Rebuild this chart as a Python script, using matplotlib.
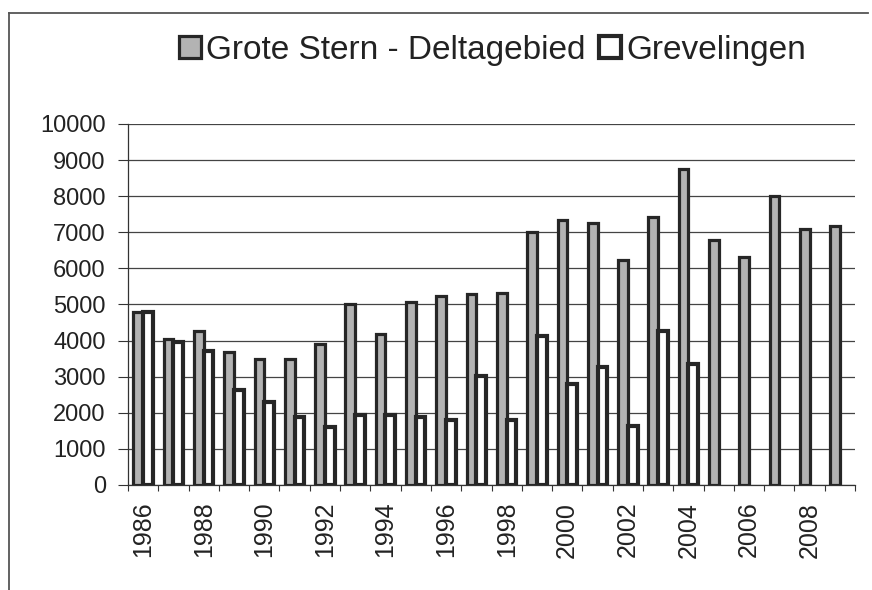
import matplotlib.pyplot as plt
from matplotlib.lines import Line2D
from matplotlib.ticker import FixedLocator
import numpy as np

plt.rcParams['font.family'] = ['Liberation Sans', 'DejaVu Sans']

years = list(range(1986, 2010))
grote_stern = [4780, 4030, 4260, 3690, 3500, 3500, 3900, 5000, 4170, 5060, 5230, 5300,
               5320, 7020, 7340, 7260, 6220, 7420, 8740, 6790, 6300, 8000, 7090, 7160]
# Grevelingen only counted until 2004
grevelingen = [4800, 3970, 3720, 2630, 2300, 1880, 1610, 1950, 1940, 1870, 1790, 3030,
               1790, 4120, 2790, 3270, 1620, 4260, 3360]

text_col = '#222222'
edge_col = '#262626'

fig = plt.figure(figsize=(8.72, 5.9), dpi=100)
ax = fig.add_axes([0.1468, 0.178, 0.8337, 0.612])

x = np.arange(len(years))
w = 0.32
ax.bar(x - w / 2, grote_stern, width=w, color='#b3b3b3', edgecolor=edge_col,
       linewidth=2.3, label='Grote Stern - Deltagebied', zorder=3)
xg = np.arange(len(grevelingen))
ax.bar(xg + w / 2, grevelingen, width=w, color='white', edgecolor=edge_col,
       linewidth=3.0, label='Grevelingen', zorder=3)

ax.set_xlim(-0.5, len(years) - 0.5)
ax.set_ylim(0, 10000)
ax.set_yticks(np.arange(0, 10001, 1000))
ax.yaxis.grid(True, color='#444444', linewidth=0.9, zorder=0)
ax.set_axisbelow(True)

ax.set_xticks(x[::2])
ax.set_xticklabels([str(y) for y in years[::2]], rotation=90, fontsize=18, color=text_col)
ax.xaxis.set_minor_locator(FixedLocator(np.arange(-0.5, len(years), 1.0)))
ax.tick_params(axis='x', which='major', length=0, pad=12)
ax.tick_params(axis='x', which='minor', length=4, width=0.8, direction='out', color='#333333')
ax.tick_params(axis='y', length=7, width=0.8, direction='out', pad=9,
               labelsize=17, labelcolor=text_col, color='#333333')

for s in ['top', 'right']:
    ax.spines[s].set_visible(False)
ax.spines['left'].set_color('#333333')
ax.spines['left'].set_linewidth(0.9)
ax.spines['bottom'].set_color('#333333')
ax.spines['bottom'].set_linewidth(0.9)

fig.legend(loc='center', bbox_to_anchor=(0.565, 0.915), ncol=2, frameon=False,
           fontsize=24, handlelength=0.66, handleheight=0.66, handletextpad=0.15,
           columnspacing=0.4, labelcolor=text_col)

# outer chart frame (only top and left edge visible in the scan)
fig.add_artist(Line2D([9 / 872, 9 / 872], [0, 1 - 13 / 590], transform=fig.transFigure,
                      color='#555555', linewidth=1.3))
fig.add_artist(Line2D([9 / 872, 868 / 872], [1 - 13 / 590, 1 - 13 / 590],
                      transform=fig.transFigure, color='#555555', linewidth=1.3))

fig.savefig('out.png', dpi=100)
